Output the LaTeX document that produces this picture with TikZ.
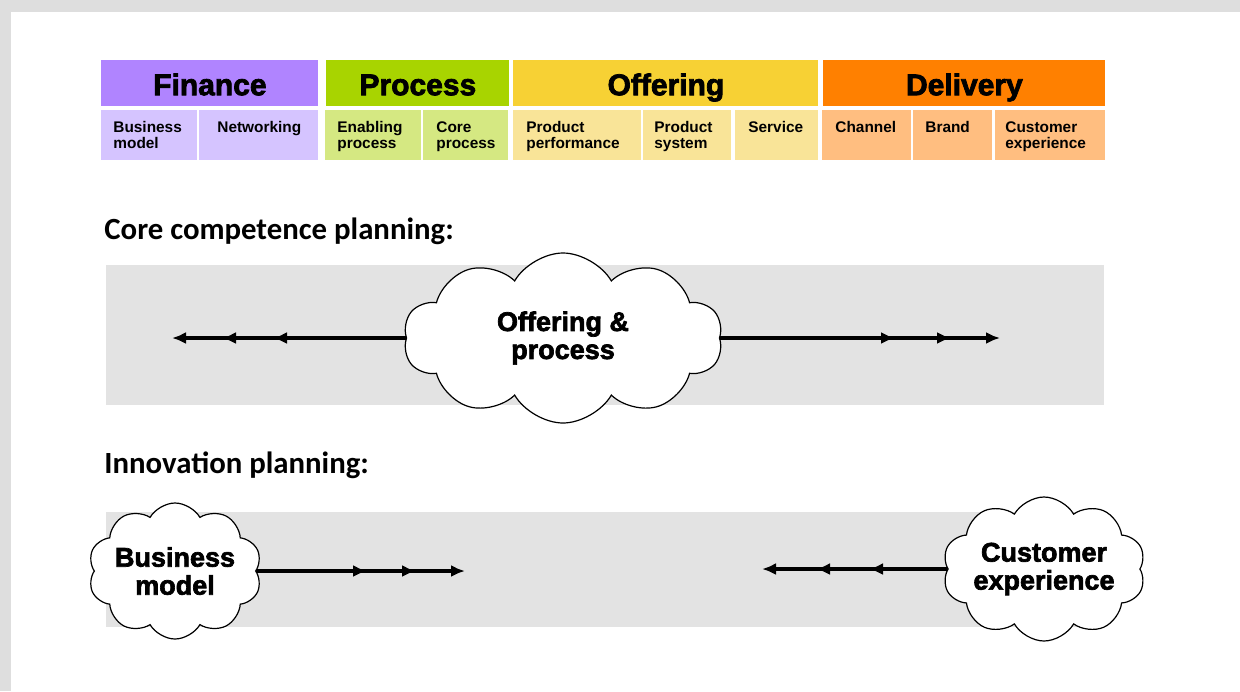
\documentclass[tikz,border=0pt]{standalone}
\usepackage{fontspec}
\setmainfont{Liberation Sans}
\newfontfamily\headfont{Carlito}
\newfontfamily\heavyfont[BoldFeatures={FakeBold=2.5}]{Liberation Sans}
\usepackage{xcolor}
\usetikzlibrary{arrows.meta, shapes.symbols}
\definecolor{finD}{RGB}{176,132,255}
\definecolor{finL}{RGB}{213,196,255}
\definecolor{procD}{RGB}{168,212,0}
\definecolor{procL}{RGB}{213,232,130}
\definecolor{offD}{RGB}{247,209,52}
\definecolor{offL}{RGB}{249,228,152}
\definecolor{delD}{RGB}{255,128,0}
\definecolor{delL}{RGB}{255,190,128}
\definecolor{bandgray}{RGB}{227,227,227}
\definecolor{framegray}{RGB}{222,222,222}

\begin{document}
\begin{tikzpicture}[x=0.5pt, y=-0.5pt,
  hdr/.style={anchor=north west, inner sep=0pt, minimum height=23pt,
              text height=12.4pt, text depth=0.6pt,
              font=\heavyfont\bfseries\fontsize{15}{15}\selectfont},
  sub/.style={anchor=north west, inner sep=0pt, minimum height=25pt},
  subtxt/.style={anchor=north west, align=left, inner sep=0pt,
                 font=\bfseries\fontsize{7.7}{8}\selectfont},
  heading/.style={anchor=base west, inner sep=0pt,
                  font=\headfont\bfseries\fontsize{15.4}{18}\selectfont},
  puff/.style={cloud, cloud puffs=10, cloud puff arc=120, cloud ignores aspect,
               draw, line width=0.6pt, fill=white, align=center, inner sep=0pt,
               font=\heavyfont\bfseries\fontsize{13.5}{14}\selectfont},
  arw/.style={-{Latex[length=7pt, width=6pt]}, line width=1.8pt}]
\useasboundingbox (0,0) rectangle (1240,691);
% slide sheet with its grey rim
\fill[framegray] (0,0) rectangle (1240,691);
\fill[white] (11,12) rectangle (1240,691);

% top row: the four planning areas
\node[hdr, fill=finD, minimum width=108.5pt] (fin) at (101,60) {Finance};
\node[hdr, fill=procD, minimum width=91.5pt] (proc) at (326,60) {Process};
\node[hdr, fill=offD, minimum width=152.5pt] (offr) at (513,60) {Offering};
\node[hdr, fill=delD, minimum width=141pt] (deliv) at (823,60) {Delivery};

% second row: the ten types
\foreach \nm/\xa/\xb/\col/\dx/\txt in {
    bm/101/197/finL/12/{Business\\model},
    netw/199/318/finL/18/{Networking},
    enab/325/421/procL/12/{Enabling\\process},
    corep/423/508/procL/13/{Core\\process},
    pperf/513/641/offL/13/{Product\\performance},
    psys/643/731/offL/11/{Product\\system},
    serv/735/818/offL/13/{Service},
    chan/822/911/delL/13/{Channel},
    brand/913/992/delL/12/{Brand},
    cx/995/1105/delL/10/{Customer\\experience}}
{
  \node[sub, fill=\col, minimum width={(\xb-\xa)*0.5pt}] (\nm) at (\xa,110) {};
  \node[subtxt] (\nm-t) at ([xshift=\dx*0.5pt, yshift=-5.5pt]\nm.north west) {\txt};
}

% core competence planning
\node[heading] (coretitle) at (104,239) {Core competence planning:};
\fill[bandgray] (106,265) rectangle (1104,405);
\node[puff, minimum width=159.5pt, minimum height=85pt] (core) at (563,338) {Offering \&\\process};
\coordinate (cl1) at (172,338);
\coordinate (cl2) at (222,338);
\coordinate (cl3) at (273,338);
\coordinate (cr1) at (895,338);
\coordinate (cr2) at (951,338);
\coordinate (cr3) at (1000,338);
\draw[arw] (core) -- (cl1);
\draw[arw] (core) -- (cl2);
\draw[arw] (core) -- (cl3);
\draw[arw] (core) -- (cr1);
\draw[arw] (core) -- (cr2);
\draw[arw] (core) -- (cr3);

% innovation planning
\node[heading] (innotitle) at (104,473) {Innovation planning:};
\fill[bandgray] (106,512) rectangle (1104,627);
\node[puff, minimum width=82pt, minimum height=68pt] (bizmod) at (175,571) {Business\\model};
\node[puff, minimum width=98.5pt, minimum height=72pt] (custexp) at (1044,569) {Customer\\experience};
\coordinate (ir1) at (367,571);
\coordinate (ir2) at (416,571);
\coordinate (ir3) at (465,571);
\coordinate (il1) at (869,569);
\coordinate (il2) at (816,569);
\coordinate (il3) at (762,569);
\draw[arw] (bizmod) -- (ir1);
\draw[arw] (bizmod) -- (ir2);
\draw[arw] (bizmod) -- (ir3);
\draw[arw] (custexp) -- (il1);
\draw[arw] (custexp) -- (il2);
\draw[arw] (custexp) -- (il3);
\end{tikzpicture}
\end{document}
